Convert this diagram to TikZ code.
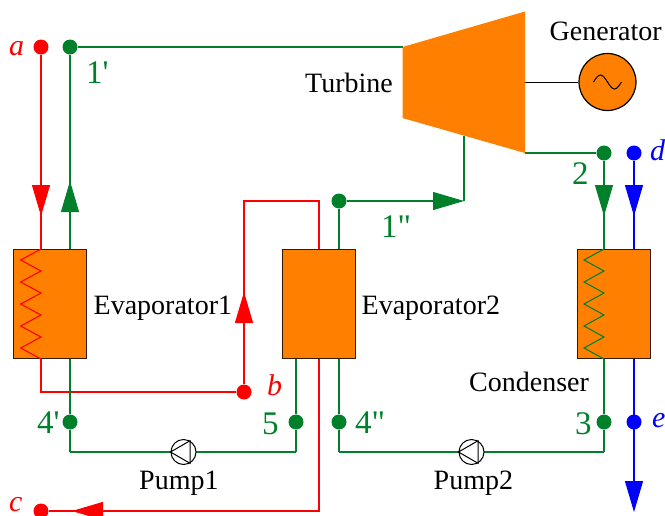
\documentclass[tikz,border=0pt]{standalone}
\usepackage{fontspec}
\setmainfont{Liberation Serif}
\newfontfamily\numfont{Liberation Serif}
\usetikzlibrary{arrows.meta}
\definecolor{hxorange}{RGB}{255,128,0}
\definecolor{loopgreen}{RGB}{0,128,42}
\tikzset{
redline/.style={draw=red,line width=1.1pt},
greenline/.style={draw=loopgreen,line width=1.1pt},
blueline/.style={draw=blue,line width=1.1pt},
bigtip/.style={-{Triangle[length=31pt,width=18pt]}},
dot/.style={circle,inner sep=0pt,minimum size=15pt},
hxbox/.style={draw=black!80!hxorange,fill=hxorange,line width=1.3pt,minimum width=73pt,minimum height=109pt,inner sep=0pt},
pumpnode/.style={draw,circle,fill=white,line width=1pt,minimum size=25pt,inner sep=0pt},
txt/.style={anchor=base west,inner sep=0pt,font=\fontsize{28}{30}\selectfont},
numlabel/.style={anchor=base west,inner sep=0pt,text=loopgreen,font=\fontsize{33}{36}\selectfont\numfont},
letlabel/.style={anchor=base west,inner sep=0pt,font=\fontsize{30}{32}\selectfont\itshape}
}
\begin{document}
\begin{tikzpicture}[x=1pt,y=-1pt]
\useasboundingbox (0,0) rectangle (665,515);
\node[hxbox] (evapone) at (50.3,304) {};
\node[hxbox] (evaptwo) at (319,304) {};
\node[hxbox] (cond) at (614,304) {};
\node[dot,fill=red] (a) at (41,47) {};
\node[dot,fill=red] (b) at (244,392) {};
\node[dot,fill=red] (c) at (41,511) {};
\node[dot,fill=blue] (d) at (634,153) {};
\node[dot,fill=blue] (e) at (634,422) {};
\node[dot,fill=loopgreen] (p1a) at (70,47) {};
\node[dot,fill=loopgreen] (p1b) at (339,201) {};
\node[dot,fill=loopgreen] (p2) at (604,153) {};
\node[dot,fill=loopgreen] (p3) at (604,422) {};
\node[dot,fill=loopgreen] (p4a) at (70,422) {};
\node[dot,fill=loopgreen] (p4b) at (339,422) {};
\node[dot,fill=loopgreen] (p5) at (296,422) {};
\coordinate (turbTL) at (402.5,47);
\coordinate (turbTR) at (525,11.5);
\coordinate (turbBR) at (525,153);
\coordinate (turbBL) at (402.5,118);
\coordinate (turbout) at (464,136);
\coordinate (shaft) at (525,82);
\coordinate (tipa) at (41,216);
\coordinate (tip1a) at (70,181);
\coordinate (tipb) at (244,292);
\coordinate (tipc) at (72,511);
\coordinate (tip1b) at (464,201);
\coordinate (tip2) at (604,216);
\coordinate (tipd) at (634,216);
\coordinate (tipe) at (634,512);
\coordinate (redtop) at (319,201);
\coordinate (redout) at (319,511);
\coordinate (redlow) at (41,392);
\coordinate (lowone) at (70,452);
\coordinate (lowtwo) at (339,452);
\coordinate (lowfive) at (296,452);
\coordinate (lowthree) at (604,452);
\draw[redline] (a) -- (a |- evapone.north);
\draw[redline,bigtip] (a) -- (tipa);
\draw[greenline] (p1a) -- (p1a |- evapone.north);
\draw[greenline,bigtip] (p1a |- evapone.north) -- (tip1a);
\draw[greenline] (p1a) -- (turbTL);
\draw[redline] (a |- evapone.south) -- (redlow) -- (b);
\draw[greenline] (p1a |- evapone.south) -- (p4a) -- (lowone);
\draw[redline] (b) -- (b |- redtop) -- (redtop) -- (redtop |- evaptwo.north);
\draw[redline,bigtip] (b) -- (tipb);
\draw[redline] (evaptwo.south -| redout) -- (redout) -- (c);
\draw[redline,bigtip] (redout) -- (tipc);
\draw[greenline] (p5 |- evaptwo.south) -- (p5) -- (lowfive);
\draw[greenline] (p4b |- evaptwo.south) -- (p4b) -- (lowtwo);
\draw[greenline] (p1b |- evaptwo.north) -- (p1b);
\draw[greenline,bigtip] (p1b) -- (tip1b);
\draw[greenline] (tip1b) -- (turbout);
\draw[greenline] (p2 |- cond.south) -- (p3) -- (lowthree);
\draw[greenline] (turbBR) -- (p2);
\draw[greenline] (p2) -- (p2 |- cond.north);
\draw[greenline,bigtip] (p2) -- (tip2);
\draw[blueline] (d) -- (d |- cond.north);
\draw[blueline,bigtip] (d) -- (tipd);
\draw[blueline,bigtip] (e |- cond.south) -- (tipe);
\draw[greenline] (lowone) -- (lowfive);
\draw[greenline] (lowtwo) -- (lowthree);
\fill[hxorange] (turbTL) -- (turbTR) -- (turbBR) -- (turbBL) -- cycle;
\foreach \xr/\xl/\col in {41/20.7/redline,604/584/greenline}
{
\draw[\col] (\xr,249) \foreach \y in {260,282,304,326,348} { -- (\xl,\y) -- (\xr,\y+11) };
}
\node[draw,circle,fill=hxorange,line width=1.2pt,minimum size=57pt,inner sep=0pt] (gen) at (607.5,82) {};
\draw[line width=1pt] (shaft) -- (gen);
\draw[line width=1pt] (gen.center) ++(-14,0) sin ++(7,-7) cos ++(7,7) sin ++(7,7) cos ++(7,-7);
\node[pumpnode] (pump1) at (183.5,452) {};
\node[pumpnode] (pump2) at (471.5,452) {};
\foreach \p in {pump1,pump2}
{
\draw[line width=1pt] (\p.180) -- (\p.60) -- (\p.-60) -- cycle;
}
\node[txt] (turbtxt) at (305,92) {Turbine};
\node[txt] (gentxt) at (549.5,40) {Generator};
\node[txt] (eonetxt) at (93.5,314) {Evaporator1};
\node[txt] (etwotxt) at (361.5,314) {Evaporator2};
\node[txt] (condtxt) at (469,391) {Condenser};
\node[txt] (ponetxt) at (139,489) {Pump1};
\node[txt] (ptwotxt) at (433.5,489) {Pump2};
\node[numlabel] (n1a) at (86,83) {1'};
\node[numlabel] (n1b) at (381,237) {1"};
\node[numlabel] (n2) at (572,184) {2};
\node[numlabel] (n3) at (575,434) {3};
\node[numlabel] (n4a) at (37,433) {4'};
\node[numlabel] (n4b) at (355,433) {4"};
\node[numlabel] (n5) at (262,434) {5};
\node[letlabel,text=red] (la) at (9,55) {a};
\node[letlabel,text=red] (lb) at (267,395) {b};
\node[letlabel,text=red] (lc) at (9,511) {c};
\node[letlabel,text=blue] (ld) at (650,160) {d};
\node[letlabel,text=blue] (le) at (652,427) {e};
\end{tikzpicture}
\end{document}
